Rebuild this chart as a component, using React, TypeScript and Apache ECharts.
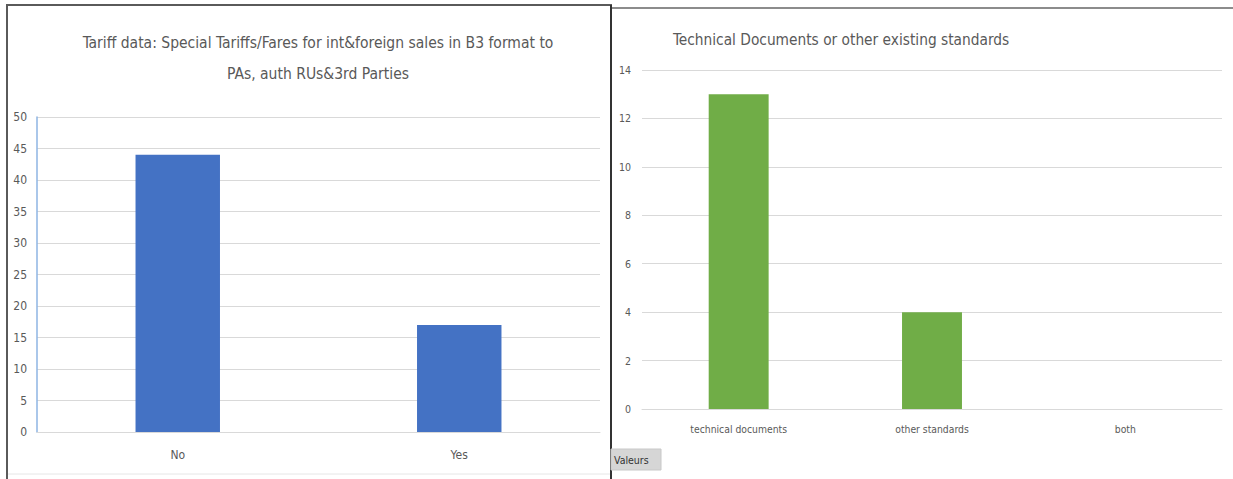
import React, { useEffect, useRef } from "react";
import * as echarts from "echarts";

const leftCategories = ["No", "Yes"];
const leftValues = [44, 17];
const leftTitle = "Tariff data: Special Tariffs/Fares for int&foreign sales in B3 format to\nPAs, auth RUs&3rd Parties";

const rightCategories = ["technical documents", "other standards", "both"];
const rightValues = [13, 4, 0];
const rightTitle = "Technical Documents or other existing standards";

const FONT = "'Liberation Sans Narrow', 'DejaVu Sans Condensed', 'Noto Sans', sans-serif";
const TXT = "#595959";
const GRID = "#d9d9d9";

export default function App() {
  const ref = useRef<HTMLDivElement>(null);
  useEffect(() => {
    if (!ref.current) return;
    const chart = echarts.init(ref.current, undefined, { renderer: "svg" });
    chart.setOption({
      animation: false,
      backgroundColor: "#ffffff",
      textStyle: { fontFamily: FONT },
      title: [
        {
          text: leftTitle,
          left: 313,
          top: 22,
          textAlign: "center",
          textStyle: { fontFamily: FONT, fontSize: 15.5, fontWeight: "normal", color: TXT, lineHeight: 31 },
        },
        {
          text: rightTitle,
          left: 668,
          top: 27,
          textStyle: { fontFamily: FONT, fontSize: 15.3, fontWeight: "normal", color: TXT },
        },
      ],
      grid: [
        { left: 37, right: 633, top: 117, bottom: 47 },
        { left: 642, right: 11, top: 70, bottom: 70 },
      ],
      xAxis: [
        {
          type: "category",
          gridIndex: 0,
          data: leftCategories,
          axisLine: { lineStyle: { color: GRID } },
          axisTick: { show: false },
          axisLabel: { color: TXT, fontSize: 12, margin: 17, fontFamily: FONT },
        },
        {
          type: "category",
          gridIndex: 1,
          data: rightCategories,
          axisLine: { lineStyle: { color: GRID } },
          axisTick: { show: false },
          axisLabel: { color: TXT, fontSize: 10.3, margin: 15, fontFamily: FONT },
        },
      ],
      yAxis: [
        {
          type: "value",
          gridIndex: 0,
          min: 0,
          max: 50,
          interval: 5,
          axisLine: { show: true, lineStyle: { color: "#8eb4e3", width: 1.5 } },
          axisTick: { show: false },
          axisLabel: { color: TXT, fontSize: 12, margin: 10, fontFamily: FONT },
          splitLine: { lineStyle: { color: GRID } },
        },
        {
          type: "value",
          gridIndex: 1,
          min: 0,
          max: 14,
          interval: 2,
          axisLine: { show: false },
          axisTick: { show: false },
          axisLabel: { color: TXT, fontSize: 10.5, margin: 11, fontFamily: FONT },
          splitLine: { lineStyle: { color: GRID } },
        },
      ],
      series: [
        {
          type: "bar",
          xAxisIndex: 0,
          yAxisIndex: 0,
          data: leftValues,
          barWidth: "30%",
          itemStyle: { color: "#4472c4" },
        },
        {
          type: "bar",
          xAxisIndex: 1,
          yAxisIndex: 1,
          data: rightValues,
          barWidth: "31%",
          itemStyle: { color: "#70ad47" },
        },
      ],
      graphic: [
        { type: "line", shape: { x1: 7, y1: 5, x2: 7, y2: 479 }, style: { stroke: "#5a5a5a", lineWidth: 2 } },
        { type: "line", shape: { x1: 6, y1: 5, x2: 612, y2: 5 }, style: { stroke: "#5a5a5a", lineWidth: 2 } },
        { type: "line", shape: { x1: 611, y1: 5, x2: 611, y2: 479 }, style: { stroke: "#333333", lineWidth: 2 } },
        { type: "line", shape: { x1: 612, y1: 8, x2: 1233, y2: 8 }, style: { stroke: "#666666", lineWidth: 1.5 } },
        { type: "line", shape: { x1: 8, y1: 474, x2: 610, y2: 474 }, style: { stroke: "#e6e6e6", lineWidth: 1 } },
        { type: "rect", shape: { x: 611, y: 449, width: 50, height: 21 }, style: { fill: "#d6d6d6", stroke: "#c8c8c8" } },
        {
          type: "text",
          x: 614,
          y: 460,
          style: { text: "Valeurs", fill: "#333333", fontSize: 10.5, fontFamily: FONT, verticalAlign: "middle" },
        },
      ],
    });
    return () => chart.dispose();
  }, []);
  return <div ref={ref} style={{ position: "fixed", left: 0, top: 0, width: 1233, height: 479 }} />;
}
